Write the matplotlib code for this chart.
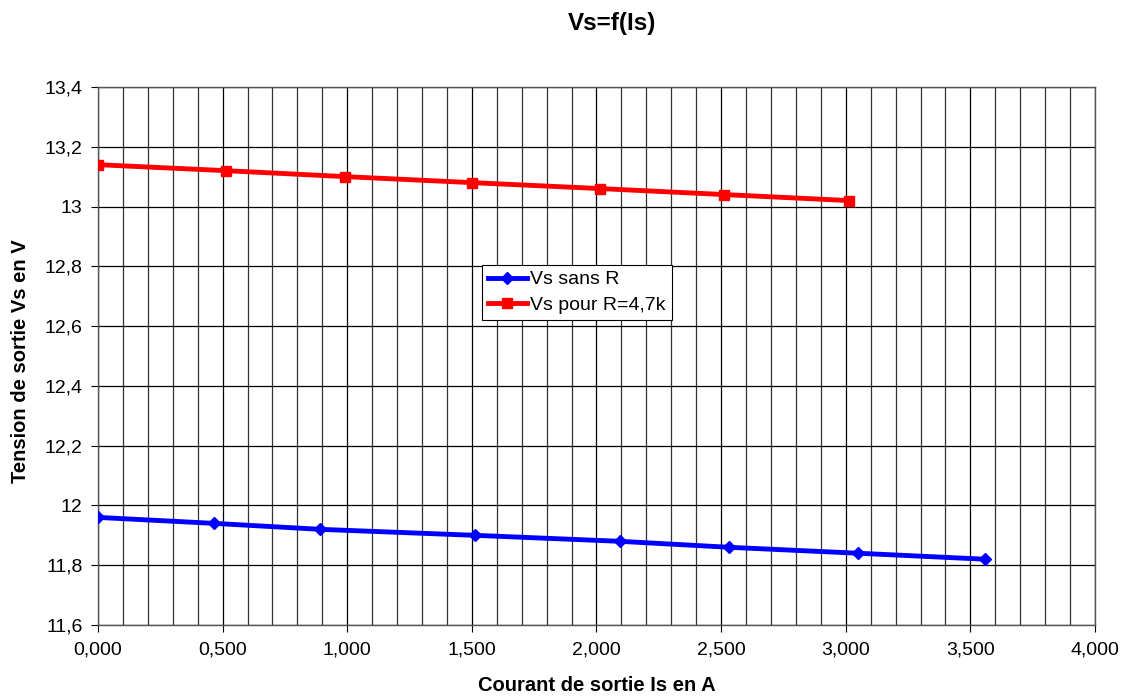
import matplotlib
matplotlib.use("Agg")
import matplotlib.pyplot as plt
from matplotlib.ticker import MultipleLocator, FuncFormatter

plt.rcParams["font.family"] = ["Liberation Sans", "DejaVu Sans"]

# Vs sans R
is_sans_r = [0.000, 0.465, 0.892, 1.511, 2.093, 2.531, 3.051, 3.560]
vs_sans_r = [11.96, 11.94, 11.92, 11.90, 11.88, 11.86, 11.84, 11.82]

# Vs pour R=4,7k
is_r47k = [0.000, 0.512, 0.993, 1.500, 2.016, 2.513, 3.012]
vs_r47k = [13.14, 13.12, 13.10, 13.08, 13.06, 13.04, 13.02]

title = "Vs=f(Is)"
xlabel = "Courant de sortie Is en A"
ylabel = "Tension de sortie Vs en V"


def fmt_x(v, pos):
    return f"{v:.3f}".replace(".", ",")


def fmt_y(v, pos):
    return f"{round(v, 1):g}".replace(".", ",")


fig = plt.figure(figsize=(11.21, 6.98), dpi=100)
ax = fig.add_axes([0.0874, 0.1046, 0.8894, 0.7708])

ax.plot(is_sans_r, vs_sans_r, color="#0000ff", lw=3.5, marker="D", ms=6,
        label="Vs sans R", zorder=3)
ax.plot(is_r47k, vs_r47k, color="#ff0000", lw=3.5, marker="s", ms=6.5,
        label="Vs pour R=4,7k", zorder=3)

ax.set_xlim(0, 4)
ax.set_ylim(11.6, 13.4)
ax.xaxis.set_major_locator(MultipleLocator(0.5))
ax.xaxis.set_minor_locator(MultipleLocator(0.1))
ax.yaxis.set_major_locator(MultipleLocator(0.2))
ax.xaxis.set_major_formatter(FuncFormatter(fmt_x))
ax.yaxis.set_major_formatter(FuncFormatter(fmt_y))

ax.grid(True, which="major", color="black", lw=0.9)
ax.grid(True, which="minor", axis="x", color="#333333", lw=0.9)
ax.set_axisbelow(True)

ax.tick_params(axis="both", which="major", direction="out", length=5,
               labelsize=14, color="black")
ax.tick_params(axis="x", which="minor", length=0)
ax.tick_params(axis="x", pad=7)
ax.tick_params(axis="y", pad=6)
for s in ax.spines.values():
    s.set_color("#555555")
    s.set_linewidth(1)

ax.set_xlabel(xlabel, fontsize=14.5, fontweight="bold", va="center")
ax.set_ylabel(ylabel, fontsize=14.5, fontweight="bold", va="center")
ax.xaxis.set_label_coords(0.5, -0.113)
ax.yaxis.set_label_coords(-0.078, 0.49)
fig.text(0.546, 0.966, title, fontsize=17.5, fontweight="bold",
         ha="center", va="center")

leg = ax.legend(loc="upper left", bbox_to_anchor=(0.385, 0.669),
                fontsize=14, frameon=True, fancybox=False, framealpha=1,
                edgecolor="black", borderaxespad=0, borderpad=0.3,
                handlelength=2.0, handletextpad=0.2, labelspacing=0.4)
leg.get_frame().set_linewidth(0.8)

fig.savefig("out.png", dpi=100)
